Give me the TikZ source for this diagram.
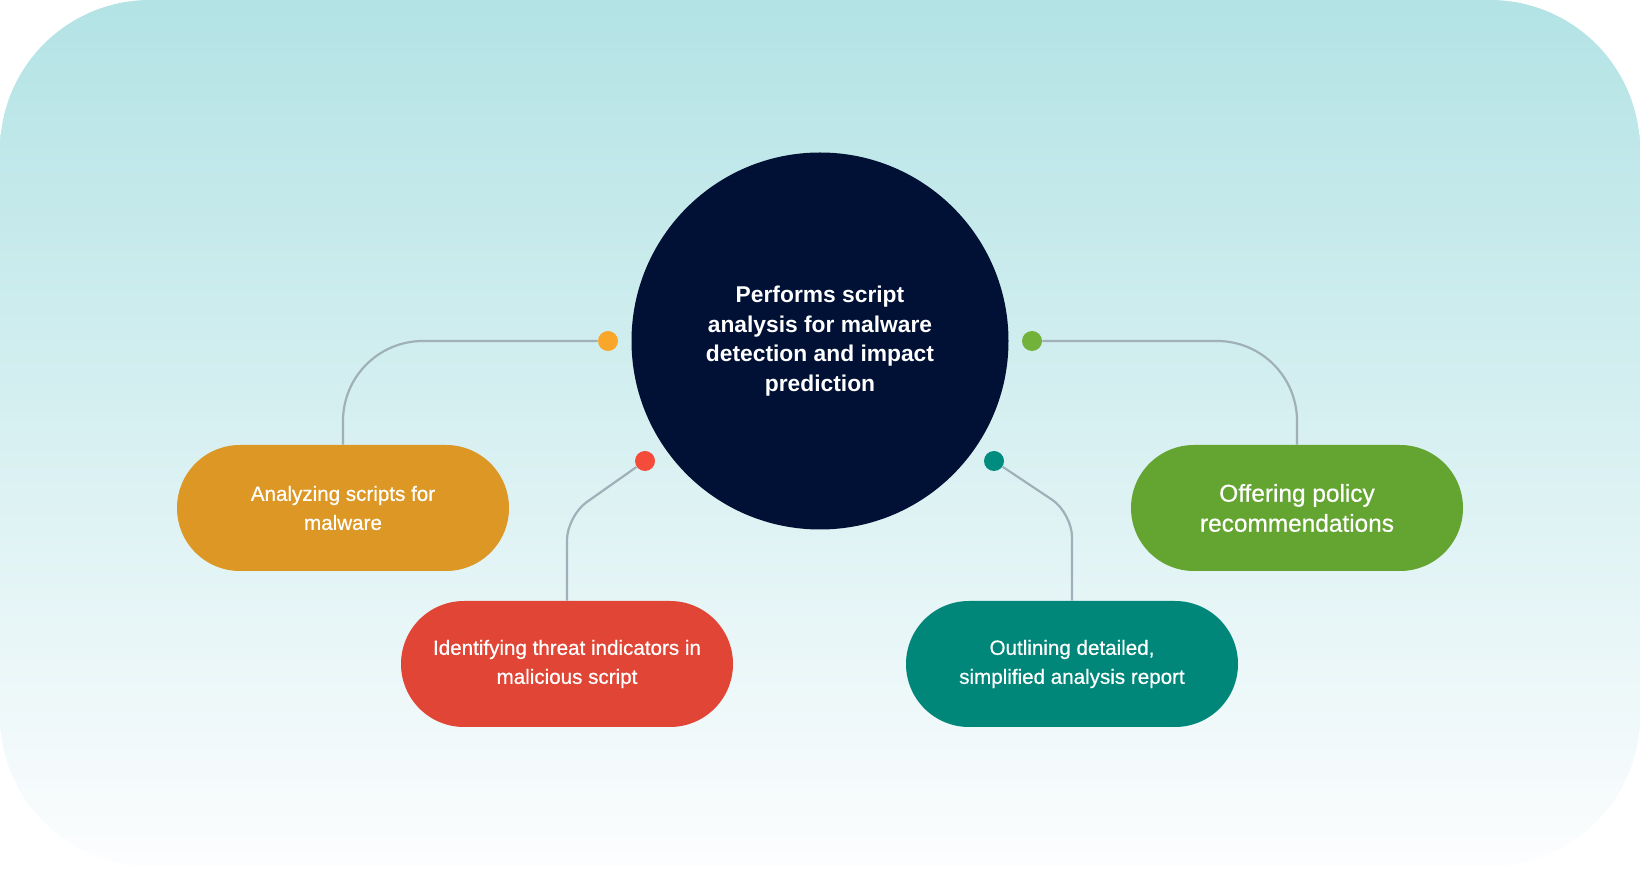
\documentclass[tikz,border=0pt]{standalone}
\usepackage{fontspec}
\setmainfont{Liberation Sans}
\usepackage{xcolor}
\usetikzlibrary{positioning, calc}

\definecolor{bgtop}{HTML}{B3E3E5}
\definecolor{bgmid}{HTML}{D8E8EF}
\definecolor{bgbot}{HTML}{FCFDFE}
\definecolor{navy}{HTML}{011135}
\definecolor{linkgray}{HTML}{9FB0B8}
\definecolor{orangebox}{HTML}{DC9724}
\definecolor{redbox}{HTML}{E04535}
\definecolor{tealbox}{HTML}{00877A}
\definecolor{greenbox}{HTML}{64A431}
\definecolor{orangedot}{HTML}{F9A72B}
\definecolor{reddot}{HTML}{F44B3A}
\definecolor{tealdot}{HTML}{008C7E}
\definecolor{greendot}{HTML}{72B23A}

\begin{document}
\begin{tikzpicture}[
  x=0.5pt, y=-0.5pt,
  pill/.style={
    rectangle, rounded corners=31.5pt,
    minimum width=166pt, minimum height=63pt,
    align=center, text=white, fill=#1,
    font=\addfontfeature{FakeBold=0.6}\fontsize{10.3}{14.5}\selectfont,
    inner sep=0pt,
  },
  hubnode/.style={
    circle, fill=navy, minimum size=188.5pt, inner sep=0pt,
    align=center, text=white,
    font=\bfseries\fontsize{11.4}{14.8}\selectfont,
  },
  dot/.style={circle, fill=#1, minimum size=10pt, inner sep=0pt},
  link/.style={draw=linkgray, line width=1.1pt},
]
\useasboundingbox (0,0) rectangle (1640,881);
\shade[top color=bgtop, middle color=bgmid, bottom color=bgbot,
  rounded corners=75pt] (0,0) rectangle (1640,866);

\node[hubnode] (hub) at (820,341) {Performs script\\
  analysis for malware\\ detection and impact\\ prediction};

\node[pill=orangebox] (scan)   at (343,508)  {Analyzing scripts for\\ malware};
\node[pill=redbox]    (threat) at (567,664)  {Identifying threat indicators in\\ malicious script};
\node[pill=tealbox]   (report) at (1072,664) {Outlining detailed,\\ simplified analysis report};
\node[pill=greenbox, font=\addfontfeature{FakeBold=0.6}\fontsize{12.2}{15}\selectfont]
                      (policy) at (1297,508) {Offering policy\\ recommendations};

% dots sit on a ring round the hub
\node[dot=orangedot] (dScan)   at ([xshift=-106pt]hub.center) {};
\node[dot=greendot]  (dPolicy) at ([xshift=106pt]hub.center) {};
\node[dot=reddot]    (dThreat) at ([xshift=-87.5pt, yshift=-60pt]hub.center) {};
\node[dot=tealdot]   (dReport) at ([xshift=87pt, yshift=-60pt]hub.center) {};

\coordinate (bThreat) at ([yshift=-27.5pt]dThreat -| threat.north);
\coordinate (bReport) at ([yshift=-26pt]dReport -| report.north);

\draw[link, rounded corners=40pt] (dScan) -| (scan.north);
\draw[link, rounded corners=40pt] (dPolicy) -| (policy.north);
\draw[link, rounded corners=12pt] (dThreat) -- (bThreat) -- (threat.north);
\draw[link, rounded corners=12pt] (dReport) -- (bReport) -- (report.north);
\end{tikzpicture}
\end{document}
